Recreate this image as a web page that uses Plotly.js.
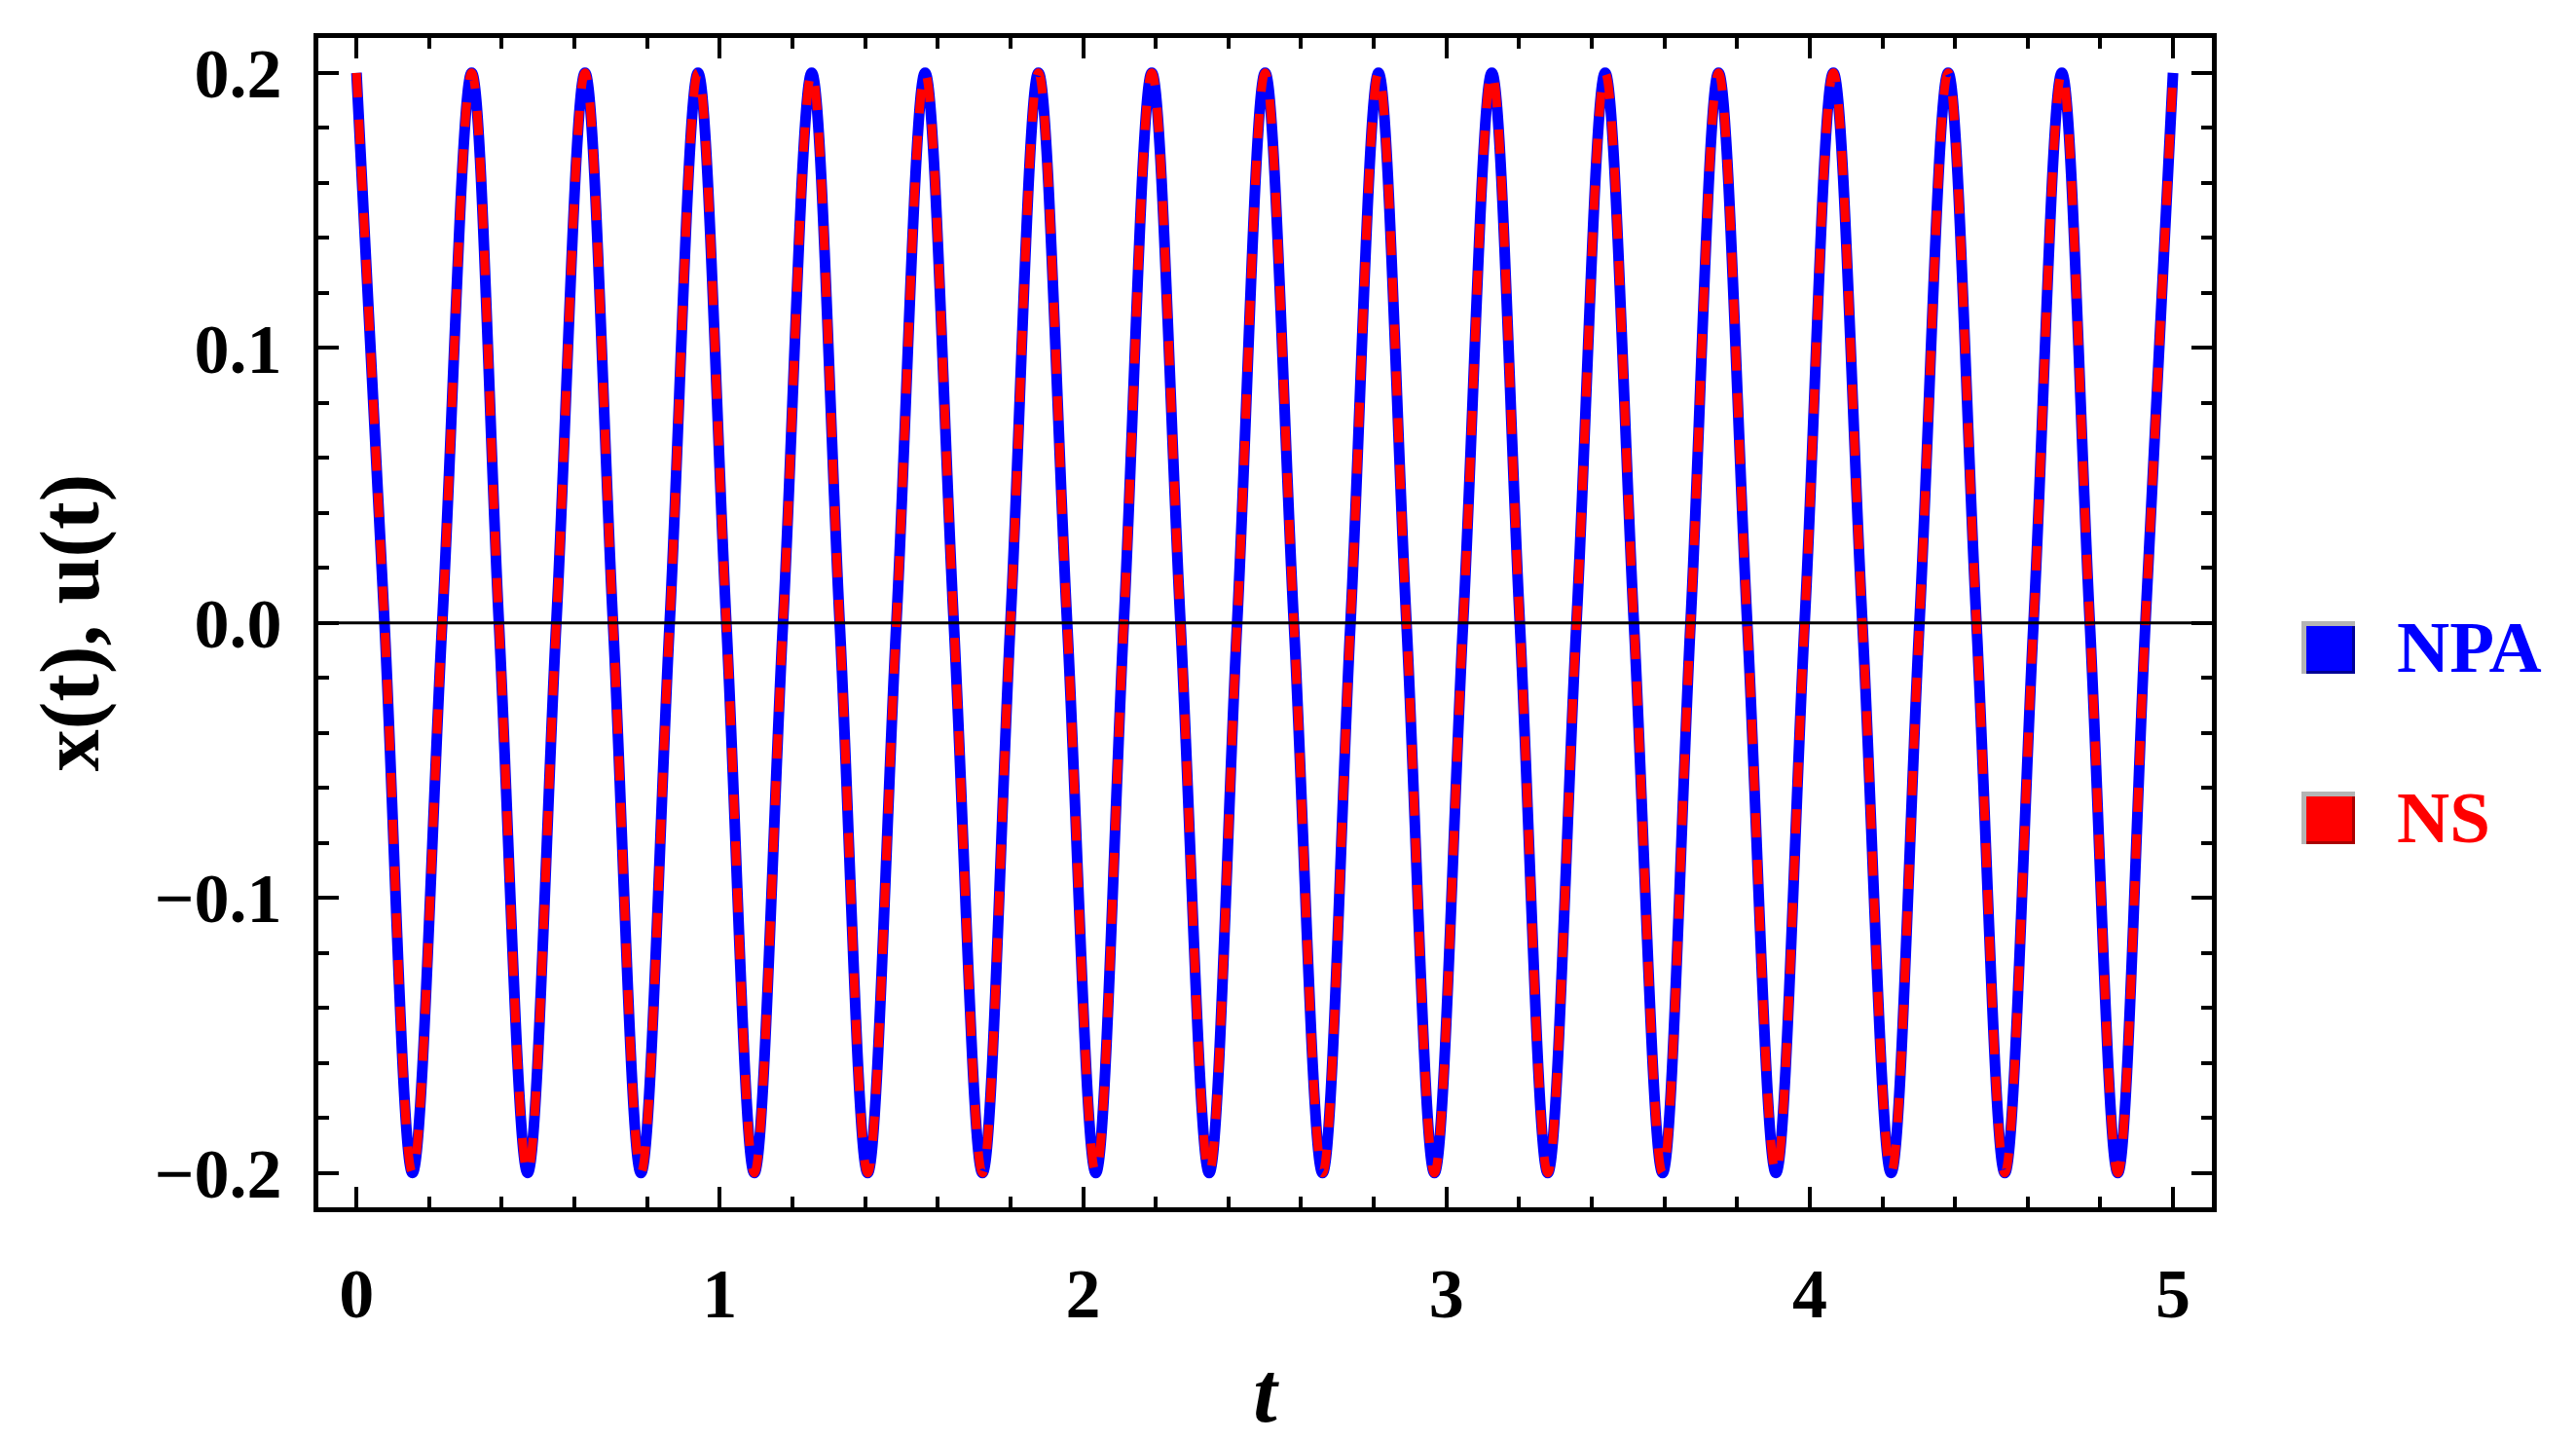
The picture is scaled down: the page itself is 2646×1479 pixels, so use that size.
<!DOCTYPE html>
<html>
<head>
<meta charset="utf-8">
<script src="https://cdn.plot.ly/plotly-3.0.1.min.js"></script>
<style>
  html, body { margin: 0; padding: 0; background: #fff; }
  #graph { width: 2646px; height: 1479px; }
</style>
</head>
<body>
<div id="graph"></div>
<script>
// times: peaks, zero crossings and troughs of the curve
const tValues = [0, 0.077, 0.154, 0.236, 0.317, 0.392, 0.471, 0.550, 0.629, 0.706, 0.783, 0.862,
  0.940, 1.018, 1.095, 1.174, 1.253, 1.330, 1.407, 1.486, 1.565, 1.644, 1.723, 1.800,
  1.877, 1.956, 2.035, 2.112, 2.189, 2.268, 2.347, 2.424, 2.501, 2.580, 2.659, 2.736,
  2.813, 2.890, 2.967, 3.046, 3.125, 3.202, 3.279, 3.358, 3.437, 3.516, 3.595, 3.672,
  3.749, 3.828, 3.907, 3.986, 4.065, 4.145, 4.224, 4.302, 4.381, 4.459, 4.537, 4.616,
  4.694, 4.771, 4.848, 4.924, 5.0];

// NPA solution x(t)
const xNPA = [0.2, 0, -0.2, 0, 0.2, 0, -0.2, 0, 0.2, 0, -0.2, 0,
  0.2, 0, -0.2, 0, 0.2, 0, -0.2, 0, 0.2, 0, -0.2, 0,
  0.2, 0, -0.2, 0, 0.2, 0, -0.2, 0, 0.2, 0, -0.2, 0,
  0.2, 0, -0.2, 0, 0.2, 0, -0.2, 0, 0.2, 0, -0.2, 0,
  0.2, 0, -0.2, 0, 0.2, 0, -0.2, 0, 0.2, 0, -0.2, 0,
  0.2, 0, -0.2, 0, 0.2];

// numerical solution u(t), lies on top of the NPA curve
const uNS = [0.2, 0, -0.2, 0, 0.2, 0, -0.2, 0, 0.2, 0, -0.2, 0,
  0.2, 0, -0.2, 0, 0.2, 0, -0.2, 0, 0.2, 0, -0.2, 0,
  0.2, 0, -0.2, 0, 0.2, 0, -0.2, 0, 0.2, 0, -0.2, 0,
  0.2, 0, -0.2, 0, 0.2, 0, -0.2, 0, 0.2, 0, -0.2, 0,
  0.2, 0, -0.2, 0, 0.2, 0, -0.2, 0, 0.2, 0, -0.2, 0,
  0.2, 0, -0.2, 0, 0.2];

const seriesNames = ['NPA', 'NS'];
const seriesColors = ['rgb(0,0,255)', 'rgb(255,0,0)'];
const xTicks = [0, 1, 2, 3, 4, 5];
const yTicks = [-0.2, -0.1, 0.0, 0.1, 0.2];

// plot box in pixels
const W = 2646, H = 1479;
const L = 327, R = 2272, T = 39, B = 1240;
const px = x => (x - L) / (R - L);
const py = y => (B - y) / (B - T);

const serif = 'Liberation Serif, Times New Roman, serif';

const traces = [
  {
    x: tValues, y: xNPA, type: 'scatter', mode: 'lines', name: seriesNames[0],
    line: { color: seriesColors[0], width: 11, shape: 'spline', smoothing: 1 },
    showlegend: false, hoverinfo: 'skip'
  },
  {
    x: tValues, y: uNS, type: 'scatter', mode: 'lines', name: seriesNames[1],
    line: { color: seriesColors[1], width: 9, dash: '25px,23px', shape: 'spline', smoothing: 1 },
    showlegend: false, hoverinfo: 'skip'
  }
];

// hand-made legend: square swatches with a grey edge, coloured labels
const shapes = [
  { type: 'line', xref: 'paper', yref: 'y', x0: 0, x1: 1, y0: 0, y1: 0,
    line: { color: 'black', width: 3 }, layer: 'above' }
];
const annotations = [];
const legendTop = [638, 813];
const darker = ['rgb(0,0,150)', 'rgb(170,0,0)'];
seriesNames.forEach((name, i) => {
  const y0 = legendTop[i], y1 = y0 + 54;
  shapes.push({ type: 'rect', xref: 'paper', yref: 'paper', x0: px(2364), x1: px(2419), y0: py(y1), y1: py(y0),
    fillcolor: 'rgb(180,180,180)', line: { width: 0 } });
  shapes.push({ type: 'rect', xref: 'paper', yref: 'paper', x0: px(2369), x1: px(2419), y0: py(y1), y1: py(y0 + 5),
    fillcolor: darker[i], line: { width: 0 } });
  shapes.push({ type: 'rect', xref: 'paper', yref: 'paper', x0: px(2369), x1: px(2416), y0: py(y1 - 3), y1: py(y0 + 5),
    fillcolor: seriesColors[i], line: { width: 0 } });
  annotations.push({ xref: 'paper', yref: 'paper', x: px(2460), y: py(y0 + 26), xanchor: 'left', yanchor: 'middle',
    text: name, showarrow: false,
    font: { family: serif, size: 75, color: seriesColors[i], weight: 'bold' } });
});

const axisCommon = {
  showline: true, mirror: 'ticks', linecolor: 'black', linewidth: 5,
  ticks: 'inside', ticklen: 21, tickwidth: 4, tickcolor: 'black',
  showgrid: false, zeroline: false,
  tickfont: { family: serif, size: 72, color: 'black', weight: 'bold' }
};

const layout = {
  width: W, height: H,
  margin: { l: L, r: W - R, t: T, b: H - B, pad: 0 },
  paper_bgcolor: 'white', plot_bgcolor: 'white',
  showlegend: false,
  xaxis: Object.assign({}, axisCommon, {
    range: [-0.105, 5.107], tickvals: xTicks, tickformat: 'd', ticklabelstandoff: 22,
    minor: { dtick: 0.2, ticks: 'inside', ticklen: 11, tickwidth: 4, tickcolor: 'black' },
    title: { text: '<i>t</i>', standoff: 40, font: { family: serif, size: 88, color: 'black', weight: 'bold' } }
  }),
  yaxis: Object.assign({}, axisCommon, {
    range: [-0.2125, 0.2127], tickvals: yTicks, tickformat: '.1f', ticklabelstandoff: 18,
    minor: { dtick: 0.02, ticks: 'inside', ticklen: 11, tickwidth: 4, tickcolor: 'black' },
    title: { text: 'x(t), u(t)', standoff: 30, font: { family: serif, size: 86, color: 'black', weight: 'bold' } }
  }),
  shapes: shapes,
  annotations: annotations
};

Plotly.newPlot('graph', traces, layout, { staticPlot: true });
</script>
</body>
</html>
